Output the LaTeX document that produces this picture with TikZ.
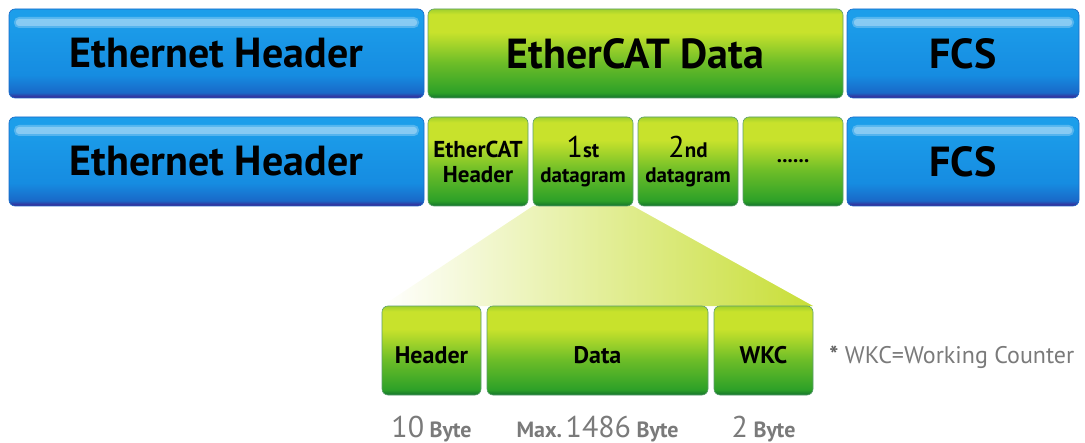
\documentclass[tikz,border=0pt]{standalone}
\usepackage{fontspec}
\setmainfont{PT Sans}
\usetikzlibrary{positioning,backgrounds}

\definecolor{bluetop}{RGB}{28,158,234}
\definecolor{bluemid}{RGB}{22,140,225}
\definecolor{bluelow}{RGB}{25,105,200}
\definecolor{blueedge}{RGB}{62,30,140}
\definecolor{greentop}{RGB}{160,208,45}
\definecolor{greenhi}{RGB}{200,226,44}
\definecolor{greenmid}{RGB}{110,190,40}
\definecolor{greenlow}{RGB}{45,160,40}
\definecolor{greenedge}{RGB}{20,115,45}
\definecolor{fanlight}{RGB}{200,222,55}
\definecolor{sizegray}{RGB}{122,122,122}

\pgfdeclareverticalshading{bluebox}{100bp}{color(0bp)=(blueedge); color(25bp)=(blueedge);
  color(28bp)=(bluelow); color(38bp)=(bluemid); color(70bp)=(bluetop); color(100bp)=(bluetop)}
\pgfdeclareverticalshading{greenbox}{100bp}{color(0bp)=(greenedge); color(25bp)=(greenedge);
  color(28bp)=(greenlow); color(45bp)=(greenmid); color(62bp)=(greenhi); color(72bp)=(greenhi);
  color(75bp)=(greentop); color(100bp)=(greentop)}

\newcommand{\ordnum}[2]{{\mdseries\fontsize{15}{12.5}\selectfont #1}#2}

\tikzset{
  field/.style={rounded corners=3pt, inner sep=0pt, outer sep=0pt,
    minimum height=44.5pt, align=center},
  ether/.style={field, shade, shading=bluebox, draw=bluelow, line width=.3pt,
    font=\bfseries\fontsize{21}{24}\selectfont,
    path picture={
      \fill[white, opacity=.25, rounded corners=2.5pt]
        ([xshift=2.5pt,yshift=-4pt]path picture bounding box.north west) rectangle
        ([xshift=-2.5pt,yshift=-9.5pt]path picture bounding box.north east);
      \fill[white, opacity=.3, rounded corners=1.5pt]
        ([xshift=3.5pt,yshift=-5pt]path picture bounding box.north west) rectangle
        ([xshift=-3.5pt,yshift=-8.5pt]path picture bounding box.north east);}},
  ecat/.style={field, shade, shading=greenbox, draw=greenedge!70, line width=.3pt},
  bigtext/.style={font=\bfseries\fontsize{21}{24}\selectfont},
  smalltext/.style={font=\bfseries\fontsize{10.5}{12.5}\selectfont},
  dgtext/.style={font=\bfseries\fontsize{12}{13}\selectfont, text height=13pt, text depth=0pt},
  bytesize/.style={inner sep=0pt, text=sizegray, font=\bfseries\fontsize{11}{13}\selectfont},
  note/.style={inner sep=0pt, text=sizegray, font=\fontsize{12}{13}\selectfont}
}

\begin{document}
\begin{tikzpicture}[x=0.5pt, y=-0.5pt]
    \useasboundingbox (0,0) rectangle (1085,443);

    % Ethernet frame
    \node[ether, minimum width=207.5pt] (eth) at (216.5,53.5) {Ethernet Header};
    \node[ecat, bigtext, minimum width=207.5pt, right = 2pt of eth] (ecat) {EtherCAT Data};
    \node[ether, minimum width=116pt, right = 2pt of ecat] (fcs) {FCS};

    % EtherCAT data split into datagrams
    \node[ether, minimum width=207.5pt] (eth2) at (216.5,161.5) {Ethernet Header};
    \node[ecat, smalltext, font=\bfseries\fontsize{11.5}{12.5}\selectfont, minimum width=50pt,
      right = 2pt of eth2] (ecathdr) {EtherCAT\\Header};
    \node[ecat, smalltext, minimum width=50pt, right = 2.5pt of ecathdr] (dg1) {\ordnum{1}{st}\\datagram};
    \node[ecat, smalltext, minimum width=50pt, right = 2.5pt of dg1] (dg2) {\ordnum{2}{nd}\\datagram};
    \node[ecat, smalltext, minimum width=50pt, right = 2.5pt of dg2] (more) {......};
    \node[ether, minimum width=116pt, right = 2pt of more] (fcs2) {FCS};

    % one datagram
    \node[ecat, dgtext, minimum width=49.5pt] (hdr) at (431.5,350.5) {Header};
    \node[ecat, dgtext, minimum width=110.5pt, right = 3pt of hdr] (data) {Data};
    \node[ecat, dgtext, minimum width=49.5pt, right = 3pt of data] (wkc) {WKC};
    \node[note, anchor=base west] (wkcnote) at ([xshift=8pt]wkc.base east)
      {\textbf{\color{sizegray!80!black}*} WKC=Working Counter};

    % sizes
    \node[bytesize, anchor=base] (hdrsize) at ([yshift=-21pt]hdr.south) {\ordnum{10}{} Byte};
    \node[bytesize, anchor=base] (datasize) at ([yshift=-21pt]data.south) {Max.\,\ordnum{1486}{} Byte};
    \node[bytesize, anchor=base] (wkcsize) at ([yshift=-21pt]wkc.south) {\ordnum{2}{} Byte};

    % zoom from 1st datagram
    \begin{scope}[on background layer]
      \shade[left color=white, right color=fanlight]
        (dg1.south west) -- (dg1.south east) -- (wkc.north east) -- (hdr.north west) -- cycle;
    \end{scope}
\end{tikzpicture}
\end{document}
